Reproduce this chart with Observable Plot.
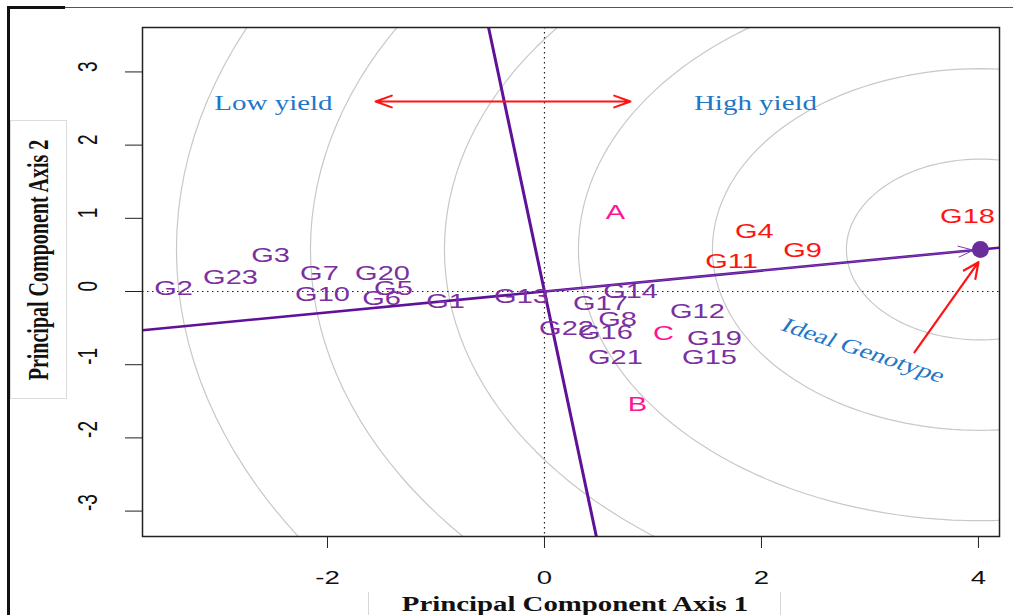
<!DOCTYPE html>
<html><head><meta charset="utf-8">
<script src="https://cdn.jsdelivr.net/npm/d3@7"></script>
<script src="https://cdn.jsdelivr.net/npm/@observablehq/plot@0.6"></script>
<style>
body{margin:0;background:#fff;}
#wrap{position:relative;width:1013px;height:615px;overflow:hidden;background:#fff;}
#chart{position:absolute;left:0;top:0;}
.deco{position:absolute;}
.ytitle{position:absolute;left:10px;top:120px;width:55px;height:277px;border:1px solid #dcdcdc;background:#fff;}
.ytitle span{position:absolute;left:50%;top:50%;white-space:nowrap;font:bold 20px "Liberation Serif",serif;color:#111;transform:translate(-50%,-50%) scale(1.45,1) rotate(-90deg);}
.xtitle{position:absolute;left:368px;top:592px;width:411px;height:23px;border-left:1px solid #d6d6d6;border-right:1px solid #d6d6d6;}
.xtitle span{position:absolute;left:50%;top:50%;white-space:nowrap;font:bold 20px "Liberation Serif",serif;color:#111;transform:translate(-50%,-50%) scale(1.44,1);}
</style></head>
<body>
<div id="wrap">
  <div id="chart"></div>
  <div class="deco" style="left:7px;top:6px;width:3px;height:609px;background:#111"></div>
  <div class="deco" style="left:7px;top:6px;width:58px;height:3px;background:#111"></div>
  <div class="deco" style="left:65px;top:7px;width:948px;height:1px;background:#555"></div>
  <div class="ytitle"><span>Principal Component Axis 2</span></div>
  <div class="xtitle"><span>Principal Component Axis 1</span></div>
</div>
<script>
// ---- data ----
const genotypes = ["G1","G2","G3","G4","G5","G6","G7","G8","G9","G10","G11","G12","G13","G14","G15","G16","G17","G18","G19","G20","G21","G22","G23"];
const pc1 = [-0.912,-3.419,-2.525,1.935,-1.392,-1.502,-2.074,0.673,2.378,-2.046,1.724,1.410,-0.212,0.793,1.521,0.562,0.516,3.899,1.567,-1.493,0.654,0.203,-2.894];
const pc2 = [-0.137,0.041,0.492,0.820,0.041,-0.096,0.246,-0.383,0.560,-0.041,0.410,-0.273,-0.068,-0.007,-0.902,-0.560,-0.164,1.025,-0.642,0.246,-0.902,-0.505,0.191];
const highYieldGenotypes = ["G4","G9","G11","G18"];
const environments = ["A","B","C"];
const envPc1 = [0.654,0.857,1.097];
const envPc2 = [1.079,-1.544,-0.574];
const idealPoint = [4.018, 0.574];
const circleRadii = [1.235, 2.47, 3.705, 4.94, 6.175, 7.41];
const xTicks = [-2, 0, 2, 4];
const yTicks = [-3, -2, -1, 0, 1, 2, 3];
const xDomain = [-3.705, 4.194];
const yDomain = [-3.347, 3.607];
const yieldLabels = ["Low yield", "High yield"];
const yieldLabelX = [-2.498, 1.945];
const yieldLabelY = 2.568;
const yieldArrowX = [-1.557, 0.793];
const yieldArrowY = 2.596;
const idealLabel = "Ideal Genotype";
const idealLabelPos = [2.94, -0.806];
const idealArrowFrom = [3.41, -0.83];
const idealArrowTo = [4.0, 0.40];

// ---- colours ----
const purpleLabel = "#7B2FA0";
const purpleLine = "#5F1199";
const red = "#FF1414";
const pink = "#FF1493";
const blue = "#1F77C8";

// ---- tables built from the arrays ----
const gTable = genotypes.map((g, i) => ({name: g, x: pc1[i], y: pc2[i], color: highYieldGenotypes.includes(g) ? red : purpleLabel}));
const eTable = environments.map((e, i) => ({name: e, x: envPc1[i], y: envPc2[i]}));
const circlePts = [];
for (const r of circleRadii) {
  for (let a = 0; a <= 360; a += 2) {
    const t = a * Math.PI / 180;
    circlePts.push({r, x: idealPoint[0] + r * Math.cos(t), y: idealPoint[1] + r * Math.sin(t)});
  }
}
const slope = idealPoint[1] / idealPoint[0];
const abscissa = xDomain.map(x => ({x, y: slope * x}));
const ordinate = yDomain.map(y => ({x: -slope * y, y}));
const yieldMid = (yieldArrowX[0] + yieldArrowX[1]) / 2;

const plot = Plot.plot({
  width: 1013, height: 615,
  marginLeft: 142, marginRight: 14, marginTop: 27, marginBottom: 79,
  style: {fontFamily: "'Liberation Sans', Arial, sans-serif", background: "transparent", color: "#111"},
  x: {domain: xDomain},
  y: {domain: yDomain},
  marks: [
    Plot.line(circlePts, {x: "x", y: "y", z: "r", stroke: "#c8c8c8", strokeWidth: 1.2, clip: true}),
    Plot.ruleX([0], {stroke: "#222", strokeWidth: 1.2, strokeDasharray: "1.5,3.5"}),
    Plot.ruleY([0], {stroke: "#222", strokeWidth: 1.2, strokeDasharray: "1.5,3.5"}),
    Plot.line(ordinate, {x: "x", y: "y", stroke: purpleLine, strokeWidth: 3, clip: true}),
    Plot.line(abscissa, {x: "x", y: "y", stroke: purpleLine, strokeWidth: 2.6, clip: true}),
    Plot.arrow([idealPoint], {x1: 0, y1: 0, x2: d => d[0], y2: d => d[1], stroke: "#7a3fb0", strokeWidth: 1, headLength: 24, headAngle: 40, insetEnd: 7}),
    Plot.dot([idealPoint], {x: d => d[0], y: d => d[1], r: 8.5, fill: "#6A2D9C", stroke: "none"}),
    Plot.text(gTable, {x: "x", y: "y", text: "name", fill: "color", fontSize: 20}),
    Plot.text(eTable, {x: "x", y: "y", text: "name", fill: pink, fontSize: 20}),
    Plot.text(yieldLabels, {x: (d, i) => yieldLabelX[i], y: yieldLabelY, text: d => d, fill: blue, fontSize: 20, fontFamily: "'Liberation Serif', serif"}),
    Plot.arrow(yieldArrowX, {x1: yieldMid, y1: yieldArrowY, x2: d => d, y2: yieldArrowY, stroke: red, strokeWidth: 2, headLength: 13, headAngle: 40}),
    Plot.text([idealLabel], {x: idealLabelPos[0], y: idealLabelPos[1], text: d => d, fill: blue, fontSize: 20, rotate: 25.6, fontFamily: "'Liberation Serif', serif"}),
    Plot.arrow([0], {x1: idealArrowFrom[0], y1: idealArrowFrom[1], x2: idealArrowTo[0], y2: idealArrowTo[1], stroke: red, strokeWidth: 2.2, headLength: 11.5, headAngle: 50}),
    Plot.frame({stroke: "#222", strokeWidth: 1.5}),
    Plot.axisX({ticks: xTicks, tickSize: 12, tickPadding: 22, tickFormat: d => String(d), fontSize: 19, label: null, stroke: "#222"}),
    Plot.axisY({ticks: yTicks, tickSize: 17, tickFormat: () => "", label: null, stroke: "#222"}),
    Plot.text(yTicks, {y: d => d, text: d => String(d), frameAnchor: "left", dx: -54, rotate: -90, fontSize: 19, fill: "#111"})
  ]
});

// horizontal stretch of all texts, as in the reference image
d3.select(plot).selectAll("text").each(function() {
  const t = this.getAttribute("transform") || "";
  if (t.includes("rotate(")) this.setAttribute("transform", t.replace(" rotate(", " scale(1.45,1) rotate("));
  else this.setAttribute("transform", (t + " scale(1.45,1)").trim());
});

document.getElementById("chart").appendChild(plot);
</script>
</body></html>
